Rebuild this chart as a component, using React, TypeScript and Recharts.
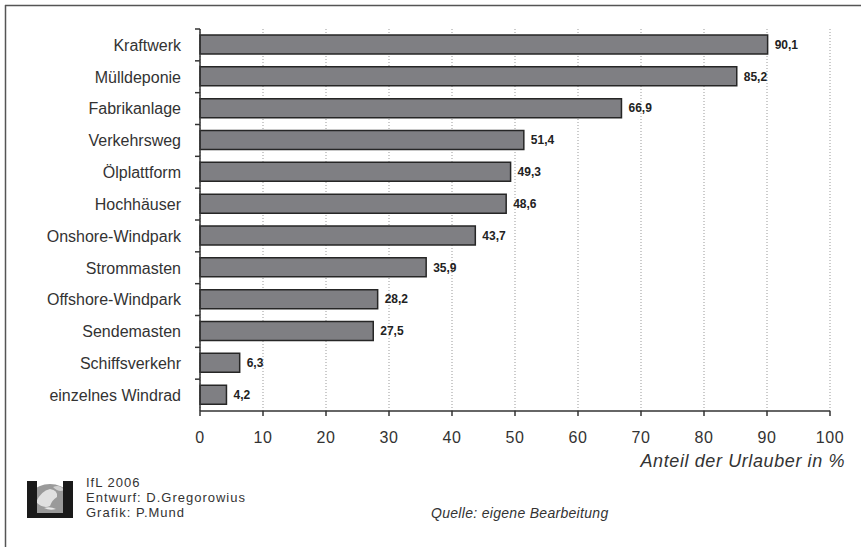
import React from 'react';
import { BarChart, Bar, XAxis, YAxis, CartesianGrid, LabelList } from 'recharts';

const categories = [
  'Kraftwerk',
  'Mülldeponie',
  'Fabrikanlage',
  'Verkehrsweg',
  'Ölplattform',
  'Hochhäuser',
  'Onshore-Windpark',
  'Strommasten',
  'Offshore-Windpark',
  'Sendemasten',
  'Schiffsverkehr',
  'einzelnes Windrad',
];

const shares = [90.1, 85.2, 66.9, 51.4, 49.3, 48.6, 43.7, 35.9, 28.2, 27.5, 6.3, 4.2];

const xTicks = [0, 10, 20, 30, 40, 50, 60, 70, 80, 90, 100];

const data = categories.map((name, i) => ({ name, share: shares[i] }));

const FONT = '"Liberation Sans", Arial, Helvetica, sans-serif';
const INK = '#333333';

// label on the left plus the short tick at the band boundary (not at the centre)
const CategoryTick = (props: any) => {
  const { x, y, payload } = props;
  const half = payload && payload.offset ? payload.offset : 16;
  return (
    <g>
      <line x1={x + 14} x2={x + 19} y1={y - half} y2={y - half} stroke={INK} strokeWidth={1.5} />
      <text x={x} y={y} dy="0.36em" textAnchor="end" fontFamily={FONT} fontSize={16} fill={INK}>
        {payload.value}
      </text>
    </g>
  );
};

const fmt = (v: any) => Number(v).toFixed(1).replace('.', ',');

function Logo() {
  return (
    <g>
      <defs>
        <clipPath id="globeClip">
          <rect x={30} y={482} width={40} height={32} />
        </clipPath>
      </defs>
      <circle cx={50} cy={512} r={28} fill="#9a9a9a" clipPath="url(#globeClip)" />
      <path d="M36 502 q5 -11 14 -13 q8 1 7 8 q-5 3 -7 9 q-7 3 -14 -4z" fill="#e0e0e0" />
      <path d="M53 487 q7 -3 11 3 q-5 3 -11 -3z" fill="#d0d0d0" />
      <path d="M44 508 q6 -2 12 1 q-6 2 -12 -1z" fill="#e8e8e8" />
      <rect x={27} y={481} width={10} height={37} fill="#1a1a1a" />
      <rect x={63} y={481} width={10} height={37} fill="#1a1a1a" />
      <rect x={37} y={513} width={26} height={5} fill="#1a1a1a" />
    </g>
  );
}

export default function App() {
  return (
    <div style={{ position: 'absolute', left: 0, top: 0, width: 861, height: 547, background: '#fff' }}>
      <BarChart
        width={861}
        height={547}
        data={data}
        layout="vertical"
        barSize={19}
        margin={{ top: 29, right: 31, left: 0, bottom: 106 }}
      >
        <CartesianGrid horizontal={false} stroke="#999" strokeDasharray="1 2" />
        <XAxis
          type="number"
          domain={[0, 100]}
          ticks={xTicks}
          height={30}
          stroke={INK}
          strokeWidth={1.5}
          tickSize={5}
          tickMargin={16}
          tick={{ fill: INK, fontSize: 16, fontFamily: FONT, letterSpacing: 0.6 }}
        />
        <YAxis
          type="category"
          dataKey="name"
          width={200}
          stroke={INK}
          strokeWidth={1.5}
          tickLine={false}
          tickSize={5}
          tickMargin={14}
          interval={0}
          tick={<CategoryTick />}
        />
        <Bar dataKey="share" fill="#7f7f83" stroke="#262626" strokeWidth={1.5} isAnimationActive={false}>
          <LabelList
            dataKey="share"
            position="right"
            offset={7}
            formatter={fmt}
            style={{ fontSize: 12, fontWeight: 'bold', fontFamily: FONT, fill: '#222' }}
          />
        </Bar>
      </BarChart>
      <svg
        width={861}
        height={547}
        style={{ position: 'absolute', left: 0, top: 0, pointerEvents: 'none' }}
      >
        <line x1={5} x2={861} y1={5.5} y2={5.5} stroke="#555" strokeWidth={1.5} />
        <line x1={5.5} x2={5.5} y1={5} y2={547} stroke="#555" strokeWidth={1.5} />
        <text
          x={845}
          y={467}
          textAnchor="end"
          fontFamily={FONT}
          fontSize={18}
          fontStyle="italic"
          letterSpacing={0.6}
          fill={INK}
        >
          Anteil der Urlauber in %
        </text>
        <Logo />
        <g fontFamily={FONT} fontSize={13} letterSpacing={1} fill={INK}>
          <text x={86} y={487}>IfL 2006</text>
          <text x={86} y={502}>Entwurf: D.Gregorowius</text>
          <text x={86} y={517}>Grafik: P.Mund</text>
        </g>
        <text x={431} y={518} fontFamily={FONT} fontSize={14} fontStyle="italic" letterSpacing={0.3} fill={INK}>
          Quelle: eigene Bearbeitung
        </text>
      </svg>
    </div>
  );
}
